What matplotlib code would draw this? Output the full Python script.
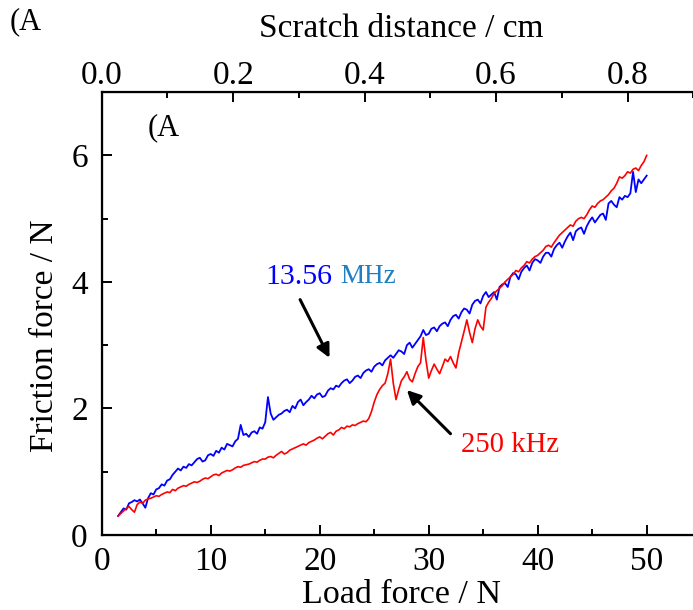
import numpy as np
import matplotlib
matplotlib.use("Agg")
import matplotlib.pyplot as plt
from matplotlib.ticker import MultipleLocator, FormatStrFormatter

plt.rcParams['font.family'] = ['Liberation Serif', 'DejaVu Serif']

# Load force grid (N), sampled every 0.25 N
load_force = np.round(np.arange(1.5, 50.001, 0.25), 2)

# Friction force (N) for the 13.56 MHz coating
friction_1356MHz = [
    0.30, 0.36, 0.42, 0.40, 0.50, 0.52, 0.55, 0.53,
    0.56, 0.50, 0.43, 0.58, 0.66, 0.64, 0.72, 0.74,
    0.80, 0.78, 0.86, 0.88, 0.95, 1.00, 1.05, 1.02,
    1.08, 1.06, 1.12, 1.10, 1.15, 1.20, 1.22, 1.16,
    1.18, 1.26, 1.28, 1.25, 1.33, 1.30, 1.38, 1.35,
    1.44, 1.42, 1.40, 1.48, 1.52, 1.74, 1.58, 1.60,
    1.55, 1.62, 1.64, 1.60, 1.70, 1.68, 1.78, 2.18,
    1.92, 1.82, 1.86, 1.90, 1.92, 1.96, 1.98, 1.94,
    2.04, 2.00, 2.10, 2.14, 2.05, 2.10, 2.14, 2.20,
    2.16, 2.22, 2.24, 2.18, 2.20, 2.28, 2.32, 2.30,
    2.36, 2.34, 2.40, 2.44, 2.46, 2.40, 2.44, 2.50,
    2.52, 2.48, 2.56, 2.60, 2.62, 2.58, 2.66, 2.70,
    2.72, 2.68, 2.76, 2.80, 2.84, 2.80, 2.86, 2.92,
    2.90, 2.86, 3.00, 3.04, 2.96, 3.02, 3.08, 3.14,
    3.24, 3.16, 3.18, 3.26, 3.28, 3.22, 3.30, 3.34,
    3.36, 3.30, 3.40, 3.46, 3.48, 3.42, 3.52, 3.58,
    3.56, 3.50, 3.64, 3.70, 3.72, 3.66, 3.78, 3.84,
    3.76, 3.80, 3.84, 3.72, 3.92, 3.96, 3.98, 3.92,
    4.08, 4.14, 4.12, 4.04, 4.16, 4.22, 4.26, 4.18,
    4.30, 4.36, 4.34, 4.30, 4.40, 4.46, 4.46, 4.40,
    4.52, 4.58, 4.62, 4.54, 4.64, 4.72, 4.78, 4.66,
    4.80, 4.84, 4.86, 4.76, 4.88, 4.96, 5.02, 4.94,
    5.00, 5.06, 5.08, 4.98, 5.24, 5.28, 5.22, 5.18,
    5.34, 5.30, 5.36, 5.34, 5.40, 5.74, 5.42, 5.62,
    5.56, 5.62, 5.68,
]

# Friction force (N) for the 250 kHz coating
friction_250kHz = [
    0.30, 0.34, 0.38, 0.42, 0.45, 0.40, 0.36, 0.48,
    0.52, 0.50, 0.55, 0.57, 0.58, 0.60, 0.62, 0.61,
    0.64, 0.66, 0.68, 0.67, 0.72, 0.70, 0.74, 0.76,
    0.78, 0.77, 0.80, 0.82, 0.84, 0.83, 0.85, 0.88,
    0.90, 0.89, 0.92, 0.95, 0.96, 0.94, 0.98, 1.00,
    1.02, 1.01, 1.03, 1.06, 1.08, 1.07, 1.10, 1.11,
    1.12, 1.14, 1.16, 1.15, 1.18, 1.20, 1.20, 1.23,
    1.24, 1.22, 1.26, 1.29, 1.32, 1.28, 1.30, 1.34,
    1.36, 1.38, 1.40, 1.42, 1.44, 1.42, 1.46, 1.48,
    1.50, 1.53, 1.55, 1.52, 1.56, 1.60, 1.62, 1.58,
    1.64, 1.66, 1.70, 1.68, 1.72, 1.71, 1.74, 1.73,
    1.76, 1.78, 1.80, 1.79, 1.84, 1.95, 2.10, 2.22,
    2.30, 2.36, 2.40, 2.55, 2.78, 2.40, 2.14, 2.30,
    2.44, 2.50, 2.58, 2.46, 2.42, 2.55, 2.66, 2.72,
    3.12, 2.76, 2.48, 2.60, 2.70, 2.62, 2.55, 2.66,
    2.78, 2.74, 2.82, 2.72, 2.64, 2.88, 3.05, 3.22,
    3.40, 3.20, 3.04, 3.26, 3.40, 3.30, 3.24, 3.60,
    3.68, 3.74, 3.82, 3.86, 3.90, 3.94, 4.00, 4.04,
    4.08, 4.12, 4.18, 4.16, 4.22, 4.26, 4.32, 4.30,
    4.36, 4.40, 4.42, 4.46, 4.50, 4.56, 4.58, 4.55,
    4.62, 4.68, 4.74, 4.78, 4.82, 4.86, 4.90, 4.88,
    4.96, 5.00, 5.02, 5.00, 5.06, 5.14, 5.20, 5.18,
    5.24, 5.28, 5.30, 5.34, 5.38, 5.44, 5.48, 5.56,
    5.66, 5.64, 5.68, 5.74, 5.72, 5.78, 5.80, 5.76,
    5.84, 5.90, 6.00,
]

# Axis ranges: 55 N of load corresponds to about 0.912 cm of scratch track
load_lim = (0, 55)
scratch_lim = (0, 0.912)
friction_lim = (0, 7)

fig = plt.figure(figsize=(6.93, 6.10), dpi=100)
ax = fig.add_axes([0.1468, 0.123, 0.865, 0.726])

ax.plot(load_force, friction_1356MHz, color='#0000ff', lw=1.3)
ax.plot(load_force, friction_250kHz, color='#ff0000', lw=1.2)

ax.set_xlim(*load_lim)
ax.set_ylim(*friction_lim)
ax.xaxis.set_major_locator(MultipleLocator(10))
ax.xaxis.set_minor_locator(MultipleLocator(5))
ax.yaxis.set_major_locator(MultipleLocator(2))
ax.yaxis.set_minor_locator(MultipleLocator(1))
ax.tick_params(which='both', direction='in', labelsize=24, width=1.4)
ax.tick_params(which='major', length=7)
ax.tick_params(which='minor', length=4)
ax.tick_params(axis='x', pad=8)
ax.tick_params(axis='y', pad=10)
for s in ax.spines.values():
    s.set_linewidth(1.6)

ax.set_xlabel('Load force / N', fontsize=24.5, labelpad=2)
fig.text(45 / 693, 1 - 336 / 610, 'Friction force / N', rotation=90,
         ha='center', va='center', fontsize=24)

# Upper axis: scratch distance
ax2 = ax.twiny()
ax2.set_xlim(*scratch_lim)
ax2.xaxis.set_major_locator(MultipleLocator(0.2))
ax2.xaxis.set_minor_locator(MultipleLocator(0.1))
ax2.xaxis.set_major_formatter(FormatStrFormatter('%.1f'))
ax2.tick_params(which='both', direction='in', labelsize=24, width=1.4, pad=1)
ax2.tick_params(which='major', length=7)
ax2.tick_params(which='minor', length=4)
ax2.set_xlabel('Scratch distance / cm', fontsize=24, labelpad=17)

# Panel tags
ax.text(4.2, 6.44, '(A', fontsize=22, ha='left', va='center')
fig.text(10 / 693, 1 - 22 / 610, '(A', fontsize=22, ha='left', va='center')

# Series labels with arrows
ax.text(15.0, 4.07, '13.56', color='#0000ff', fontsize=21.5, ha='left', va='center')
ax.text(21.9, 4.09, 'MHz', color='#1f7fc4', fontsize=19.5, ha='left', va='center')
ax.annotate('', xy=(20.9, 2.80), xytext=(18.2, 3.72),
            arrowprops=dict(arrowstyle='-|>', color='black', lw=2.2,
                            mutation_scale=20, shrinkA=0, shrinkB=0))

ax.text(33.0, 1.43, '250 kHz', color='#ff0000', fontsize=20.7, ha='left', va='center')
ax.annotate('', xy=(28.0, 2.29), xytext=(32.0, 1.60),
            arrowprops=dict(arrowstyle='-|>', color='black', lw=2.2,
                            mutation_scale=20, shrinkA=0, shrinkB=0))

fig.savefig('out.png', dpi=100)
